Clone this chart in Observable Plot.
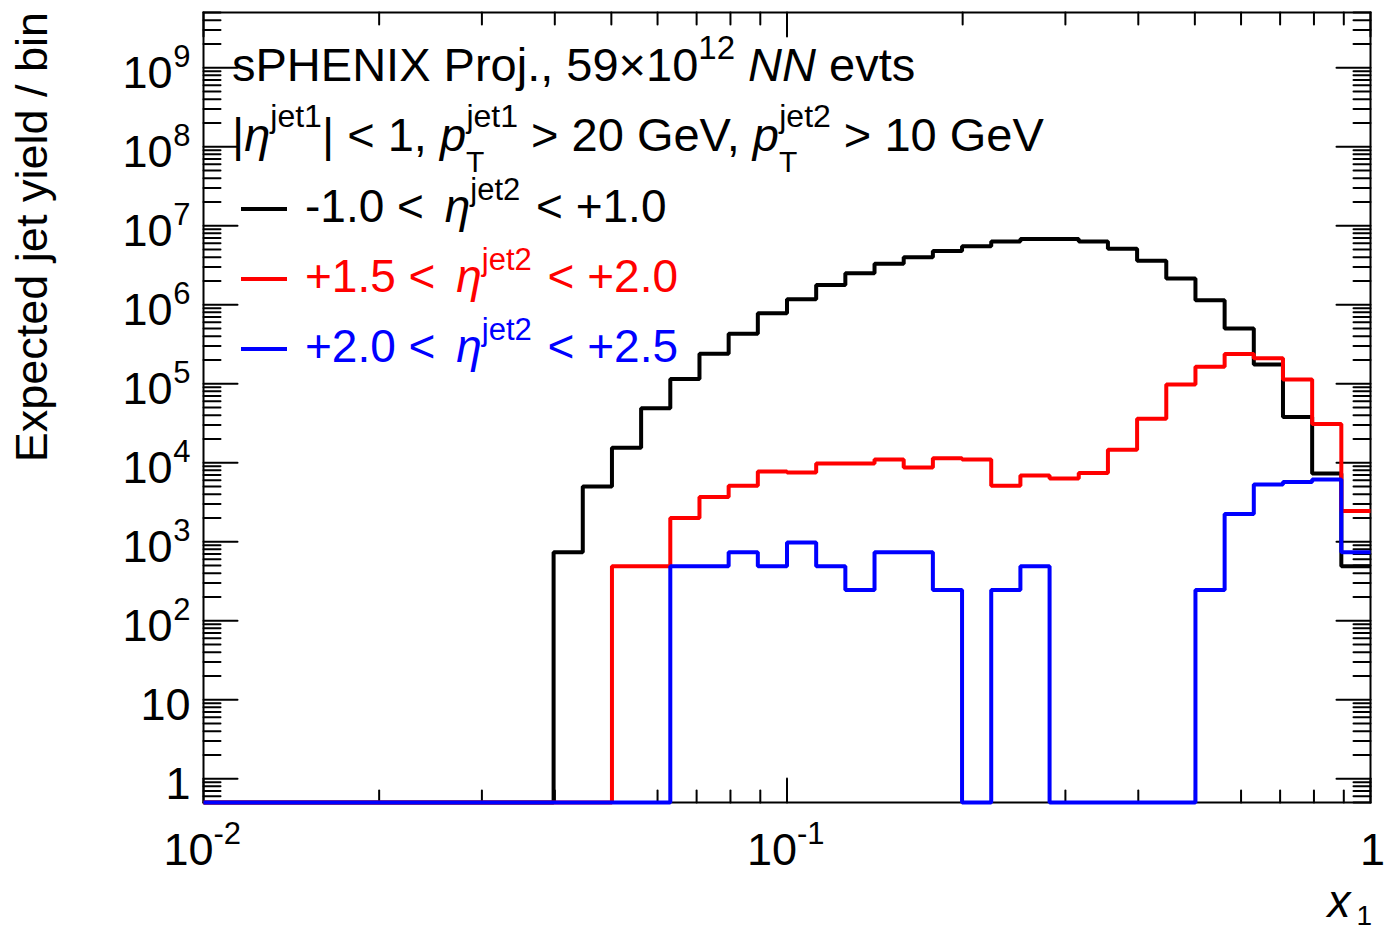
<!DOCTYPE html>
<html>
<head>
<meta charset="utf-8">
<script src="https://cdn.jsdelivr.net/npm/d3@7"></script>
<script src="https://cdn.jsdelivr.net/npm/@observablehq/plot@0.6"></script>
<style>
  html, body { margin: 0; padding: 0; background: #fff; }
  #chart svg { display: block; }
</style>
</head>
<body>
<div id="chart"></div>
<script>
// ---------------- data ----------------
// histogram binning: 20 log-uniform bins per decade, x from 10^-2 to 1
const binsPerDecade = 20;
const xMinLog = -2;
const nBins = 40;

// expected jet yield per bin (bins k = 0..39)
const blackYield = [0,0,0,0,0,0,0,0,0,0,0,0,
  735, 5000, 15500, 49000, 115000, 240000, 430000, 780000, 1170000, 1780000,
  2500000, 3300000, 4000000, 4800000, 5500000, 6300000, 6800000, 6800000, 6300000, 5100000,
  3600000, 2140000, 1140000, 500000, 175000, 38000, 7300, 490];
const redYield = [0,0,0,0,0,0,0,0,0,0,0,0,0,0,
  490, 490, 2000, 3670, 5100, 7760, 7500, 9800, 9800, 11000,
  8700, 11400, 11000, 5100, 6900, 6300, 7400, 14600, 36000, 98000,
  164000, 237000, 210000, 113000, 31000, 2450];
const blueYield = [0,0,0,0,0,0,0,0,0,0,0,0,0,0,0,0,
  490, 490, 735, 490, 980, 490, 245, 735, 735, 245,
  0, 245, 490, 0, 0, 0, 0, 0, 245, 2250,
  5300, 5700, 6150, 735];

const seriesColors = ["#000000", "#ff0000", "#0000ff"];
const seriesLabels = ["-1.0 < ", "+1.5 < ", "+2.0 < "];
const seriesLabelEnds = [" < +1.0", " < +2.0", " < +2.5"];

const xDomain = [0.01, 1];
const yDomain = [0.5, 5e9];

const xTickValues = [0.01, 0.1, 1];
const xTickBase = ["10", "10", "1"];
const xTickExp = ["-2", "-1", ""];

const yTickValues = [1, 10, 1e2, 1e3, 1e4, 1e5, 1e6, 1e7, 1e8, 1e9];
const yTickBase = ["1", "10", "10", "10", "10", "10", "10", "10", "10", "10"];
const yTickExp = ["", "", "2", "3", "4", "5", "6", "7", "8", "9"];

// ---------------- derived ----------------
const xEdges = d3.range(nBins + 1).map(k => 10 ** (xMinLog + k / binsPerDecade));
function histPoints(vals) {
  const pts = vals.map((v, k) => ({x: xEdges[k], y: Math.max(v, yDomain[0])}));
  pts.push({x: xEdges[nBins], y: pts[nBins - 1].y});
  return pts;
}
const series = [blackYield, redYield, blueYield].map(histPoints);

const yMinor = [];
for (let e = -1; e <= 9; e++) for (let m = 2; m <= 9; m++) {
  const v = m * 10 ** e;
  if (v >= yDomain[0] && v <= yDomain[1] && !yTickValues.includes(v)) yMinor.push(v);
}
const xMinor = [];
for (let e = -2; e <= -1; e++) for (let m = 2; m <= 9; m++) xMinor.push(m * 10 ** e);

const yLab = yTickValues.map((v, i) => ({v, base: yTickBase[i], exp: yTickExp[i]}));
const xLab = xTickValues.map((v, i) => ({v, base: xTickBase[i], exp: xTickExp[i]}));

const tickShape = {draw(context, l) { context.moveTo(0, 0); context.lineTo(0, -l); }};
const F = "'Liberation Sans', Arial, Helvetica, sans-serif";

function ticks(data, axis, len) {
  const common = {length: len, anchor: "start", shape: tickShape, stroke: "black", strokeWidth: 2};
  if (axis === "left") return Plot.vector(data, {...common, x: () => xDomain[0], y: d => d, rotate: 90});
  if (axis === "right") return Plot.vector(data, {...common, x: () => xDomain[1], y: d => d, rotate: -90});
  if (axis === "bottom") return Plot.vector(data, {...common, x: d => d, y: () => yDomain[0], rotate: 0});
  return Plot.vector(data, {...common, x: d => d, y: () => yDomain[1], rotate: 180});
}

const chart = Plot.plot({
  width: 1385,
  height: 932,
  marginLeft: 203,
  marginRight: 15,
  marginTop: 12,
  marginBottom: 130,
  style: {fontFamily: F, background: "white", color: "black", overflow: "visible"},
  x: {type: "log", domain: xDomain, axis: null},
  y: {type: "log", domain: yDomain, axis: null},
  marks: [
    Plot.frame({stroke: "black", strokeWidth: 2}),
    ticks(yTickValues, "left", 34),
    ticks(yMinor, "left", 17),
    ticks(yTickValues, "right", 34),
    ticks(yMinor, "right", 17),
    ticks(xTickValues, "bottom", 24),
    ticks(xMinor, "bottom", 12),
    ticks(xTickValues, "top", 24),
    ticks(xMinor, "top", 12),
    // y tick labels
    Plot.text(yLab.filter(d => d.exp !== ""), {x: () => xDomain[0], y: "v", text: "base", textAnchor: "end", lineAnchor: "bottom", dx: -31, dy: 20, fontSize: 45, fill: "black"}),
    Plot.text(yLab.filter(d => d.exp !== ""), {x: () => xDomain[0], y: "v", text: "exp", textAnchor: "end", lineAnchor: "bottom", dx: -13, dy: -1, fontSize: 31, fill: "black"}),
    Plot.text(yLab.filter(d => d.exp === ""), {x: () => xDomain[0], y: "v", text: "base", textAnchor: "end", lineAnchor: "bottom", dx: -13, dy: 20, fontSize: 45, fill: "black"}),
    // x tick labels
    Plot.text(xLab.filter(d => d.exp !== ""), {x: "v", y: () => yDomain[0], text: "base", textAnchor: "end", lineAnchor: "bottom", dx: 10, dy: 62, fontSize: 45, fill: "black"}),
    Plot.text(xLab.filter(d => d.exp !== ""), {x: "v", y: () => yDomain[0], text: "exp", textAnchor: "start", lineAnchor: "bottom", dx: 10, dy: 41, fontSize: 31, fill: "black"}),
    Plot.text(xLab.filter(d => d.exp === ""), {x: "v", y: () => yDomain[0], text: "base", textAnchor: "middle", lineAnchor: "bottom", dx: 2, dy: 62, fontSize: 45, fill: "black"}),
    // histograms
    ...series.map((pts, i) => Plot.line(pts, {x: "x", y: "y", curve: "step-after", stroke: seriesColors[i], strokeWidth: 4, strokeLinejoin: "miter", strokeLinecap: "butt"}))
  ]
});

document.getElementById("chart").appendChild(chart);

// ---------------- rich text (titles, legend) ----------------
const svg = d3.select(chart);
function rich(x, y, parts, fill, size = 46, anchor = "start") {
  const t = svg.append("text").attr("x", x).attr("y", y).attr("fill", fill)
    .attr("font-size", size).attr("font-family", F).attr("text-anchor", anchor)
    .style("white-space", "pre");
  let cur = 0;
  for (const p of parts) {
    const off = p.sup ? -p.sup : p.sub ? p.sub : 0;
    const ts = t.append("tspan").attr("dy", off - cur).text(p.t);
    cur = off;
    if (p.size) ts.attr("font-size", p.size);
    if (p.i) ts.attr("font-style", "italic");
    if (p.dx) ts.attr("dx", p.dx);
  }
  return t;
}

rich(232, 81, [
  {t: "sPHENIX Proj., 59×10"}, {t: "12", sup: 22, size: 33}, {t: " "}, {t: "NN", i: true}, {t: " evts"}
], "black", 47);

rich(232, 151, [
  {t: "|"}, {t: "η", i: true}, {t: "jet1", sup: 24, size: 32}, {t: "| < 1, "},
  {t: "p", i: true}, {t: "T", sub: 21, size: 30}, {t: "jet1", sup: 24, size: 32, dx: -18},
  {t: " > 20 GeV, "},
  {t: "p", i: true}, {t: "T", sub: 21, size: 30}, {t: "jet2", sup: 24, size: 32, dx: -18},
  {t: " > 10 GeV"}
], "black", 47);

const legendY = [222, 292, 362];
seriesColors.forEach((c, i) => {
  svg.append("line").attr("x1", 241).attr("x2", 287)
    .attr("y1", legendY[i] - 13).attr("y2", legendY[i] - 13)
    .attr("stroke", c).attr("stroke-width", 4);
  rich(305, legendY[i], [
    {t: seriesLabels[i]}, {t: "η", i: true, dx: 8}, {t: "jet2", sup: 22, size: 31}, {t: seriesLabelEnds[i], dx: 3}
  ], c);
});

// axis titles
svg.append("text").attr("transform", "translate(47,12) rotate(-90)")
  .attr("text-anchor", "end").attr("font-size", 45).attr("font-family", F)
  .attr("fill", "black").text("Expected jet yield / bin");

rich(1372, 917, [{t: "x", i: true}, {t: "1", sub: 8, size: 28, dx: 6}], "black", 46, "end");
</script>
</body>
</html>
